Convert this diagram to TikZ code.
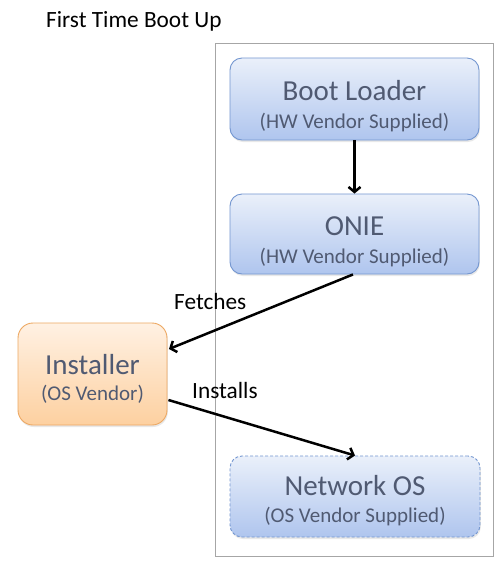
\documentclass[tikz,border=0pt]{standalone}
\usepackage{fontspec}
\setmainfont{Carlito}
\usetikzlibrary{arrows.meta,shadows,calc}
\definecolor{bluetop}{HTML}{EAF0FA}
\definecolor{bluebot}{HTML}{AFC5EE}
\definecolor{blueedge}{HTML}{7396D0}
\definecolor{orgtop}{HTML}{FFF1E3}
\definecolor{orgbot}{HTML}{FDD0A0}
\definecolor{orgedge}{HTML}{EDA862}
\definecolor{boxtext}{HTML}{505A72}
\definecolor{frame}{HTML}{A6A6A6}
\tikzset{
  box/.style={draw=blueedge, line width=0.9pt, rounded corners=12pt,
    top color=bluetop, bottom color=bluebot, inner sep=0pt,
    drop shadow={opacity=0.18, shadow xshift=0.8pt, shadow yshift=-2pt}},
  obox/.style={box, draw=orgedge, top color=orgtop, bottom color=orgbot, rounded corners=15pt},
  dbox/.style={box, dash pattern=on 3pt off 2pt, draw=blueedge},
  maintext/.style={anchor=base, text=boxtext, inner sep=0pt, font=\fontsize{29}{30}\selectfont},
  subtext/.style={anchor=base, text=boxtext, inner sep=0pt, font=\fontsize{21}{24}\selectfont},
  lbl/.style={anchor=base west, inner sep=0pt, font=\fontsize{23.3}{26}\selectfont},
  arr/.style={line width=2.5pt, -{Straight Barb[length=5pt,width=12pt]}}
}
\begin{document}
\begin{tikzpicture}[x=1pt,y=-1pt]
\useasboundingbox (0,0) rectangle (502,566);
\fill[white] (0,0) rectangle (502,566);
% frame
\node[draw=frame, line width=0.9pt, minimum width=278pt, minimum height=513pt, inner sep=0pt] (frm) at (354,299.5) {};
% title
\node[lbl] (title) at (46,27) {First Time Boot Up};
% boxes
\node[box, minimum width=249pt, minimum height=82pt] (bl) at (354.5,99) {};
\node[maintext] (blm) at (354.5,100) {Boot Loader};
\node[subtext] (bls) at (354.5,128) {(HW Vendor Supplied)};
\node[box, minimum width=249pt, minimum height=80pt] (onie) at (354.5,234) {};
\node[maintext] (oniem) at (354.5,235) {ONIE};
\node[subtext] (onies) at (354.5,263) {(HW Vendor Supplied)};
\node[obox, minimum width=149pt, minimum height=102pt] (inst) at (92.5,374) {};
\node[maintext] (instm) at (92.5,374) {Installer};
\node[subtext] (insts) at (92.5,400) {(OS Vendor)};
\node[dbox, minimum width=250pt, minimum height=81pt] (nos) at (355,496.5) {};
\node[maintext] (nosm) at (355,495) {Network OS};
\node[subtext] (noss) at (355,522) {(OS Vendor Supplied)};
% arrows
\draw[arr] (bl.south) -- (onie.north);
\draw[arr] ([xshift=-1.5pt]onie.south) -- ([xshift=1.5pt,yshift=25pt]inst.east);
\draw[arr] ([xshift=1pt,yshift=-26pt]inst.east) -- (nos.north);
% labels
\node[lbl] (fetch) at (174,309) {Fetches};
\node[lbl] (inl) at (192,398) {Installs};
\end{tikzpicture}
\end{document}
